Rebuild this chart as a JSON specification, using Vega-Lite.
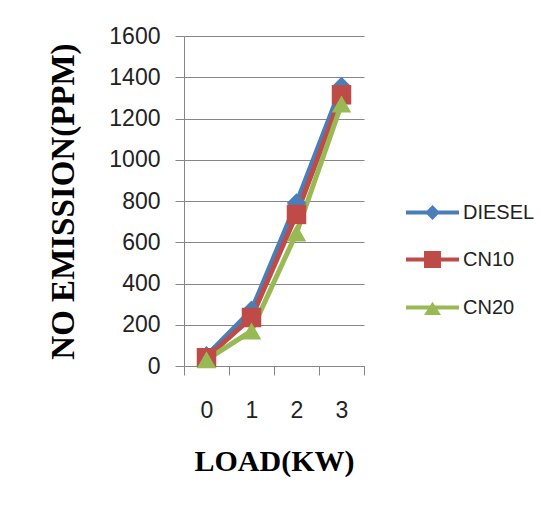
{
  "$schema": "https://vega.github.io/schema/vega-lite/v6.json",
  "width": 180,
  "height": 330,
  "autosize": {"type": "none"},
  "padding": {"left": 184, "top": 36, "right": 196, "bottom": 140},
  "background": "white",
  "config": {"view": {"stroke": null}},
  "data": {
    "values": [
      {"load": "0", "series": "DIESEL", "no": 50},
      {"load": "1", "series": "DIESEL", "no": 270},
      {"load": "2", "series": "DIESEL", "no": 790},
      {"load": "3", "series": "DIESEL", "no": 1355},
      {"load": "0", "series": "CN10", "no": 40},
      {"load": "1", "series": "CN10", "no": 235},
      {"load": "2", "series": "CN10", "no": 735},
      {"load": "3", "series": "CN10", "no": 1315},
      {"load": "0", "series": "CN20", "no": 30},
      {"load": "1", "series": "CN20", "no": 170},
      {"load": "2", "series": "CN20", "no": 645},
      {"load": "3", "series": "CN20", "no": 1270}
    ]
  },
  "encoding": {
    "x": {
      "field": "load",
      "type": "ordinal",
      "scale": {"paddingInner": 0, "paddingOuter": 0},
      "axis": {
        "title": "LOAD(KW)",
        "titleFont": "Liberation Serif",
        "titleFontSize": 30,
        "titleFontWeight": "bold",
        "titleColor": "#000000",
        "titlePadding": 24,
        "labelAngle": 0,
        "labelFont": "Liberation Sans",
        "labelFontSize": 23,
        "labelColor": "#222222",
        "labelPadding": 24,
        "tickBand": "extent",
        "tickSize": 9,
        "tickColor": "#868686",
        "domainColor": "#868686",
        "grid": false
      }
    },
    "y": {
      "field": "no",
      "type": "quantitative",
      "scale": {"domain": [0, 1600], "nice": false},
      "axis": {
        "title": "NO EMISSION(PPM)",
        "titleFont": "Liberation Serif",
        "titleFontSize": 33,
        "titleFontWeight": "bold",
        "titleColor": "#000000",
        "titlePadding": 28,
        "values": [0, 200, 400, 600, 800, 1000, 1200, 1400, 1600],
        "format": "d",
        "labelFont": "Liberation Sans",
        "labelFontSize": 23,
        "labelColor": "#222222",
        "labelPadding": 15,
        "tickSize": 9,
        "tickColor": "#868686",
        "domainColor": "#868686",
        "grid": true,
        "gridColor": "#868686",
        "gridWidth": 1
      }
    }
  },
  "layer": [
    {
      "mark": {"type": "line", "strokeWidth": 5},
      "encoding": {
        "color": {
          "field": "series",
          "type": "nominal",
          "scale": {"domain": ["DIESEL", "CN10", "CN20"], "range": ["#4A7EBB", "#BE4B48", "#98B954"]},
          "legend": null
        }
      }
    },
    {
      "mark": {"type": "point", "filled": true, "opacity": 1, "size": 380},
      "encoding": {
        "color": {
          "field": "series",
          "type": "nominal",
          "scale": {"domain": ["DIESEL", "CN10", "CN20"], "range": ["#4A7EBB", "#BE4B48", "#98B954"]},
          "legend": null
        },
        "shape": {
          "field": "series",
          "type": "nominal",
          "scale": {"domain": ["DIESEL", "CN10", "CN20"], "range": ["diamond", "square", "triangle-up"]},
          "legend": null
        }
      }
    },
    {
      "mark": {"type": "point", "filled": true, "opacity": 0, "size": 2809},
      "encoding": {
        "color": {
          "field": "series",
          "type": "nominal",
          "scale": {"domain": ["DIESEL", "CN10", "CN20"], "range": ["#4A7EBB", "#BE4B48", "#98B954"]},
          "legend": {
            "title": null,
            "orient": "none",
            "legendX": 221,
            "legendY": 149,
            "symbolSize": 2809,
            "symbolOpacity": 1,
            "labelFont": "Liberation Sans",
            "labelFontSize": 20,
            "labelColor": "#222222",
            "labelOffset": 3,
            "rowPadding": 9,
            "padding": 0
          }
        },
        "shape": {
          "field": "series",
          "type": "nominal",
          "scale": {
            "domain": ["DIESEL", "CN10", "CN20"],
            "range": [
              "M-1,-0.075H1V0.075H-1Z M0,-0.28L0.28,0L0,0.28L-0.28,0Z",
              "M-1,-0.075H1V0.075H-1Z M-0.32,-0.32H0.32V0.32H-0.32Z",
              "M-1,-0.075H1V0.075H-1Z M0,-0.22L0.32,0.28H-0.32Z"
            ]
          },
          "legend": {
            "title": null,
            "orient": "none",
            "legendX": 221,
            "legendY": 149,
            "symbolSize": 2809,
            "symbolOpacity": 1,
            "labelFont": "Liberation Sans",
            "labelFontSize": 20,
            "labelColor": "#222222",
            "labelOffset": 3,
            "rowPadding": 9,
            "padding": 0
          }
        }
      }
    }
  ],
  "resolve": {"scale": {"shape": "independent", "color": "independent"}}
}
